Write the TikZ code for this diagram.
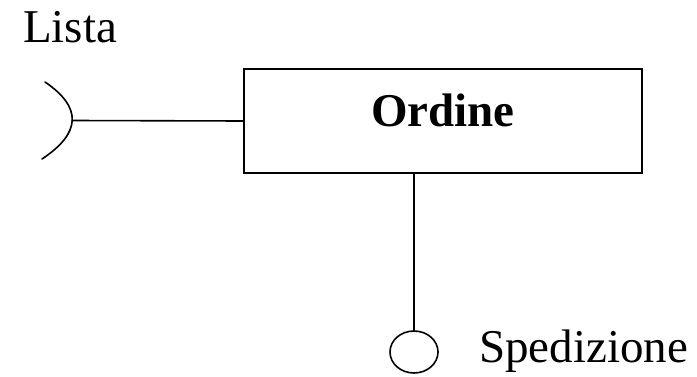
\documentclass[tikz,border=0pt]{standalone}
\usepackage{fontspec}
\setmainfont{Liberation Serif}
\usetikzlibrary{shapes.geometric}
\tikzset{
  ln/.style={line width=1.6pt, line cap=round},
  classbox/.style={draw, line width=1.6pt, rectangle, minimum width=398pt, minimum height=104pt,
    inner sep=0pt, font=\fontsize{47}{56}\selectfont\bfseries, text height=32pt, text depth=22pt},
  lbl/.style={font=\fontsize{47}{56}\selectfont, inner sep=0pt},
  endpt/.style={draw, ellipse, line width=1.6pt, minimum width=48pt, minimum height=42pt, inner sep=0pt}
}
\begin{document}
\begin{tikzpicture}[x=1pt,y=1pt]
\useasboundingbox (0,0) rectangle (697,376);
\node[classbox] (box) at (443,255) {Ordine};
\node[lbl, anchor=base west] (lista) at (23,334) {Lista};
\node[endpt] (ell) at (414,24) {};
\node[lbl, anchor=base west] (sped) at (479,14) {Spedizione};
\coordinate (tip) at (72.2,255.5);
\draw[ln] (box.west) -- (tip);
\draw[ln] (45,294) .. controls (82.3,268.7) and (81.3,243) .. (42,217);
\draw[ln] (ell.north |- box.south) -- (ell.north);
\end{tikzpicture}
\end{document}
